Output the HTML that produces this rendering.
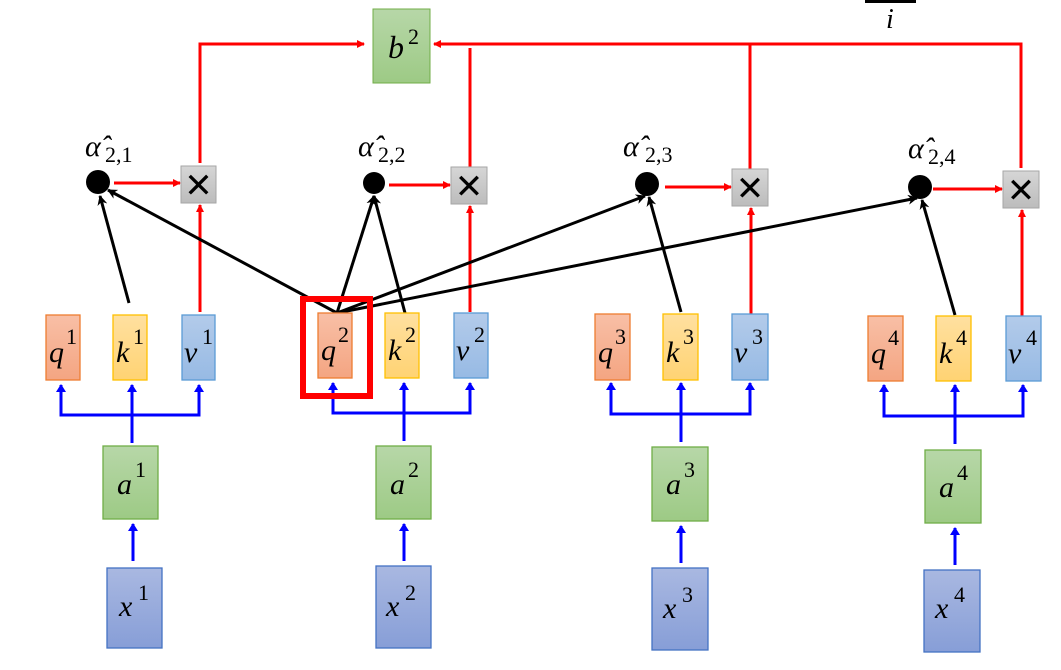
<!DOCTYPE html>
<html><head><meta charset="utf-8"><style>html,body{margin:0;padding:0;background:#fff;width:1061px;height:670px;overflow:hidden}</style></head>
<body>
<svg width="1061" height="670" viewBox="0 0 1061 670" xmlns="http://www.w3.org/2000/svg" font-family="Liberation Serif, serif" font-style="italic">
<defs>
<linearGradient id="gq" x1="0" y1="0" x2="0" y2="1"><stop offset="0" stop-color="#f8bfa6"/><stop offset="1" stop-color="#f4a582"/></linearGradient>
<linearGradient id="gk" x1="0" y1="0" x2="0" y2="1"><stop offset="0" stop-color="#ffe0a0"/><stop offset="1" stop-color="#ffd373"/></linearGradient>
<linearGradient id="gv" x1="0" y1="0" x2="0" y2="1"><stop offset="0" stop-color="#b3cbea"/><stop offset="1" stop-color="#97bae4"/></linearGradient>
<linearGradient id="ga" x1="0" y1="0" x2="0" y2="1"><stop offset="0" stop-color="#b7d7a8"/><stop offset="1" stop-color="#9dca85"/></linearGradient>
<linearGradient id="gx" x1="0" y1="0" x2="0" y2="1"><stop offset="0" stop-color="#a9b8e1"/><stop offset="1" stop-color="#879ed7"/></linearGradient>
<linearGradient id="gg" x1="0" y1="0" x2="0" y2="1"><stop offset="0" stop-color="#d6d6d6"/><stop offset="1" stop-color="#bcbcbc"/></linearGradient>
<marker id="ar" markerWidth="8" markerHeight="8" refX="7" refY="4" orient="auto" markerUnits="userSpaceOnUse"><path d="M0,0 L8,4 L0,8 z" fill="#f00"/></marker>
<marker id="ab" markerWidth="8" markerHeight="10" refX="7" refY="5" orient="auto" markerUnits="userSpaceOnUse"><path d="M0,0 L8,5 L0,10 z" fill="#00f"/></marker>
<marker id="ak" markerWidth="10" markerHeight="10" refX="9" refY="5" orient="auto" markerUnits="userSpaceOnUse"><path d="M0,0 L10,5 L0,10 L3,5 z" fill="#000"/></marker>
</defs>

<!-- top -->
<rect x="865" y="0" width="51" height="3" fill="#000"/>
<text x="886" y="28" font-size="28">i</text>
<rect x="373" y="9" width="57" height="74" fill="url(#ga)" stroke="#70ad47" stroke-width="1"/>
<text x="388" y="58" font-size="32">b</text><text x="408" y="44" font-size="22" font-style="normal">2</text>

<g stroke="#f00" stroke-width="3" fill="none">
<polyline points="200,163 200,44 364,44" marker-end="url(#ar)"/>
<polyline points="1021,168 1021,44 434,44" marker-end="url(#ar)"/>
<line x1="470" y1="48" x2="470" y2="167"/>
<line x1="750" y1="43" x2="750" y2="169"/>
<line x1="114" y1="183" x2="180" y2="183" marker-end="url(#ar)"/>
<line x1="389" y1="185" x2="450" y2="185" marker-end="url(#ar)"/>
<line x1="665" y1="187" x2="731" y2="187" marker-end="url(#ar)"/>
<line x1="933" y1="189" x2="1002" y2="189" marker-end="url(#ar)"/>
<line x1="200" y1="312" x2="200" y2="205" marker-end="url(#ar)"/>
<line x1="470" y1="312" x2="470" y2="206" marker-end="url(#ar)"/>
<line x1="751" y1="314" x2="751" y2="208" marker-end="url(#ar)"/>
<line x1="1022" y1="316" x2="1022" y2="210" marker-end="url(#ar)"/>
</g>

<!-- multiply boxes -->
<g font-family="DejaVu Sans, sans-serif" font-style="normal" font-weight="bold" font-size="34" text-anchor="middle">
<rect x="181" y="166" width="35" height="37" fill="url(#gg)" stroke="#a6a6a6"/><text x="198.5" y="197">✕</text>
<rect x="451" y="167" width="36" height="37" fill="url(#gg)" stroke="#a6a6a6"/><text x="469" y="198">✕</text>
<rect x="732" y="169" width="36" height="37" fill="url(#gg)" stroke="#a6a6a6"/><text x="750" y="200">✕</text>
<rect x="1003" y="171" width="36" height="37" fill="url(#gg)" stroke="#a6a6a6"/><text x="1021" y="202">✕</text>
</g>

<!-- dots & labels -->
<g fill="#000">
<circle cx="98" cy="182" r="12"/><circle cx="374" cy="183" r="11"/><circle cx="647" cy="184" r="12"/><circle cx="920" cy="187" r="12"/>
</g>
<g font-size="30">
<text x="85" y="156">α̂</text><text x="105" y="162" font-size="22" font-style="normal">2,1</text>
<text x="358" y="156">α̂</text><text x="378" y="162" font-size="22" font-style="normal">2,2</text>
<text x="623" y="156">α̂</text><text x="645" y="162" font-size="22" font-style="normal">2,3</text>
<text x="908" y="158">α̂</text><text x="928" y="164" font-size="22" font-style="normal">2,4</text>
</g>

<!-- black arrows -->
<g stroke="#000" stroke-width="3" fill="none">
<line x1="129" y1="303" x2="100" y2="196" marker-end="url(#ak)"/>
<line x1="337" y1="313" x2="108" y2="190" marker-end="url(#ak)"/>
<line x1="337" y1="313" x2="374" y2="196" marker-end="url(#ak)"/>
<line x1="405" y1="313" x2="374" y2="196" marker-end="url(#ak)"/>
<line x1="337" y1="313" x2="645" y2="196" marker-end="url(#ak)"/>
<line x1="337" y1="313" x2="917" y2="198" marker-end="url(#ak)"/>
<line x1="681" y1="312" x2="649" y2="197" marker-end="url(#ak)"/>
<line x1="955" y1="315" x2="922" y2="200" marker-end="url(#ak)"/>
</g>

<!-- blue connectors -->
<g stroke="#00f" stroke-width="3" fill="none">
<polyline points="61,388 61,415 199,415 199,388"/><line x1="61" y1="389" x2="61" y2="385" marker-end="url(#ab)"/><line x1="199" y1="389" x2="199" y2="385" marker-end="url(#ab)"/>
<line x1="132" y1="443" x2="132" y2="385" marker-end="url(#ab)"/><line x1="133" y1="561" x2="133" y2="524" marker-end="url(#ab)"/>
<polyline points="333,386 333,413 470,413 470,386"/><line x1="333" y1="387" x2="333" y2="383" marker-end="url(#ab)"/><line x1="470" y1="387" x2="470" y2="383" marker-end="url(#ab)"/>
<line x1="404" y1="441" x2="404" y2="383" marker-end="url(#ab)"/><line x1="404" y1="561" x2="404" y2="524" marker-end="url(#ab)"/>
<polyline points="611,386 611,414 750,414 750,386"/><line x1="611" y1="387" x2="611" y2="383" marker-end="url(#ab)"/><line x1="750" y1="387" x2="750" y2="383" marker-end="url(#ab)"/>
<line x1="681" y1="442" x2="681" y2="383" marker-end="url(#ab)"/><line x1="681" y1="563" x2="681" y2="526" marker-end="url(#ab)"/>
<polyline points="884,388 884,416 1023,416 1023,388"/><line x1="884" y1="389" x2="884" y2="385" marker-end="url(#ab)"/><line x1="1023" y1="389" x2="1023" y2="385" marker-end="url(#ab)"/>
<line x1="955" y1="444" x2="955" y2="385" marker-end="url(#ab)"/><line x1="955" y1="565" x2="955" y2="528" marker-end="url(#ab)"/>
</g>

<!-- qkv boxes -->
<g stroke-width="1.3">
<rect x="46" y="315" width="34" height="65" fill="url(#gq)" stroke="#ed7d31"/>
<rect x="113" y="315" width="34" height="65" fill="url(#gk)" stroke="#ffc000"/>
<rect x="182" y="315" width="33" height="65" fill="url(#gv)" stroke="#5b9bd5"/>
<rect x="318" y="313" width="34" height="65" fill="url(#gq)" stroke="#ed7d31"/>
<rect x="385" y="313" width="34" height="65" fill="url(#gk)" stroke="#ffc000"/>
<rect x="454" y="313" width="34" height="65" fill="url(#gv)" stroke="#5b9bd5"/>
<rect x="595" y="314" width="35" height="66" fill="url(#gq)" stroke="#ed7d31"/>
<rect x="663" y="314" width="35" height="66" fill="url(#gk)" stroke="#ffc000"/>
<rect x="732" y="314" width="36" height="66" fill="url(#gv)" stroke="#5b9bd5"/>
<rect x="868" y="316" width="35" height="65" fill="url(#gq)" stroke="#ed7d31"/>
<rect x="936" y="316" width="35" height="65" fill="url(#gk)" stroke="#ffc000"/>
<rect x="1006" y="316" width="35" height="65" fill="url(#gv)" stroke="#5b9bd5"/>
<rect x="103" y="446" width="55" height="73" fill="url(#ga)" stroke="#70ad47"/>
<rect x="376" y="446" width="55" height="73" fill="url(#ga)" stroke="#70ad47"/>
<rect x="652" y="447" width="56" height="74" fill="url(#ga)" stroke="#70ad47"/>
<rect x="925" y="450" width="56" height="73" fill="url(#ga)" stroke="#70ad47"/>
<rect x="107" y="568" width="55" height="80" fill="url(#gx)" stroke="#4472c4"/>
<rect x="376" y="566" width="55" height="82" fill="url(#gx)" stroke="#4472c4"/>
<rect x="652" y="568" width="56" height="82" fill="url(#gx)" stroke="#4472c4"/>
<rect x="924" y="570" width="56" height="82" fill="url(#gx)" stroke="#4472c4"/>
</g>
<rect x="303" y="299" width="67" height="97" fill="none" stroke="#f00" stroke-width="6"/>

<!-- labels -->
<g font-size="30">
<text x="49" y="362">q</text><text x="66" y="344" font-size="22" font-style="normal">1</text>
<text x="116" y="362">k</text><text x="133" y="344" font-size="22" font-style="normal">1</text>
<text x="184" y="362">v</text><text x="202" y="344" font-size="22" font-style="normal">1</text>
<text x="321" y="360">q</text><text x="338" y="342" font-size="22" font-style="normal">2</text>
<text x="388" y="360">k</text><text x="405" y="342" font-size="22" font-style="normal">2</text>
<text x="456" y="360">v</text><text x="474" y="342" font-size="22" font-style="normal">2</text>
<text x="598" y="362">q</text><text x="615" y="344" font-size="22" font-style="normal">3</text>
<text x="666" y="362">k</text><text x="683" y="344" font-size="22" font-style="normal">3</text>
<text x="734" y="362">v</text><text x="752" y="344" font-size="22" font-style="normal">3</text>
<text x="871" y="363">q</text><text x="888" y="345" font-size="22" font-style="normal">4</text>
<text x="939" y="363">k</text><text x="956" y="345" font-size="22" font-style="normal">4</text>
<text x="1008" y="363">v</text><text x="1026" y="345" font-size="22" font-style="normal">4</text>
<text x="117" y="494">a</text><text x="135" y="477" font-size="22" font-style="normal">1</text>
<text x="390" y="494">a</text><text x="408" y="477" font-size="22" font-style="normal">2</text>
<text x="666" y="494">a</text><text x="684" y="477" font-size="22" font-style="normal">3</text>
<text x="939" y="497">a</text><text x="957" y="480" font-size="22" font-style="normal">4</text>
<text x="119" y="616">x</text><text x="138" y="600" font-size="22" font-style="normal">1</text>
<text x="386" y="616">x</text><text x="405" y="600" font-size="22" font-style="normal">2</text>
<text x="663" y="618">x</text><text x="682" y="602" font-size="22" font-style="normal">3</text>
<text x="935" y="618">x</text><text x="954" y="602" font-size="22" font-style="normal">4</text>
</g>
</svg>
</body></html>
